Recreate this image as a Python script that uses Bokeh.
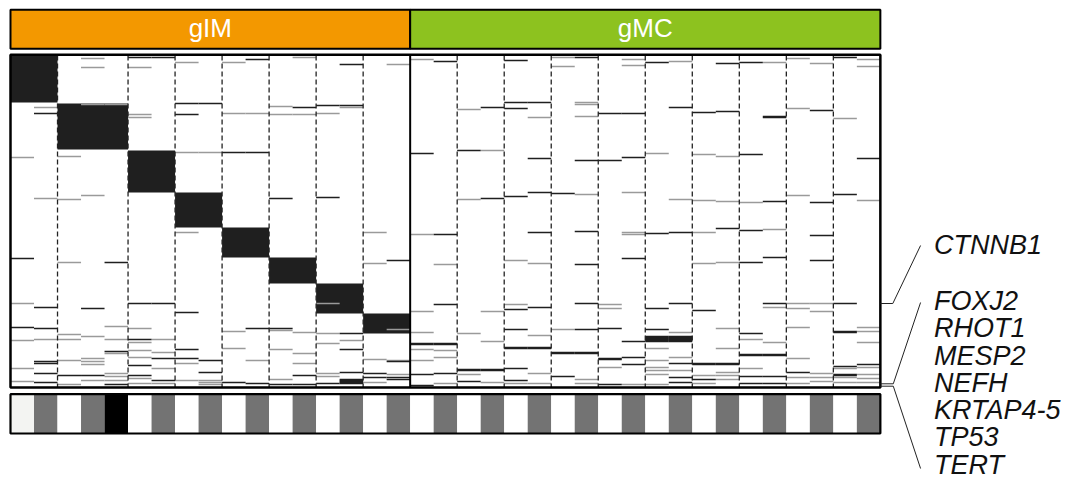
from bokeh.plotting import figure
from bokeh.models import Range1d, ColumnDataSource
from bokeh.embed import file_html
from bokeh.resources import INLINE
from bokeh.core.properties import value

# ---------------- data ----------------
GROUPS = ["gIM", "gMC"]
GROUP_COLORS = ["#F39800", "#8DC21F"]
GIM_CLUSTER_SIZES = [2, 3, 2, 2, 2, 2, 2, 2]
GMC_CLUSTER_SIZES = [2, 2, 2, 2, 2, 2, 2, 2, 2, 2]
N_ROWS = 332

# signature blocks of gIM clusters: (first_row, last_row)
BLOCK_ROWS = [(0, 47), (48, 94), (95, 137), (137, 172), (172, 202), (202, 228), (228, 258), (258, 278)]

# sparse events per sample column: light (gray) and strong (black)
GRAY_MARKS = {
    0: [102, 248, 285, 313, 326], 1: [52, 143, 284], 2: [101, 144, 207, 279, 284, 305, 329],
    3: [3, 12, 49, 140, 281, 303, 306, 309, 325], 4: [49, 271, 284, 298, 318, 321, 325],
    5: [12, 59, 62, 273, 287, 295, 302, 323, 328], 6: [284, 297, 313, 328],
    7: [7, 97, 177, 308, 325], 8: [97, 325, 327, 329], 9: [7, 58, 276, 293], 10: [58, 305],
    11: [51, 59, 275, 294, 324], 12: [2, 59, 277, 298, 308], 13: [58, 248, 278, 288, 318, 321],
    14: [52, 285], 15: [177, 208, 304, 327], 16: [9, 274, 305, 319],
    17: [4, 179, 256, 277, 294, 305], 18: [209, 295, 302, 328], 19: [54, 144, 278, 319],
    20: [95, 256, 286, 327], 21: [205, 249, 328], 22: [62, 208, 280, 318, 328], 23: [2, 11, 274],
    24: [47, 49, 61, 139, 324, 328], 25: [249, 253, 312], 26: [4, 10, 137, 177, 179, 329],
    27: [98, 293, 305, 312, 315, 319, 329], 28: [6, 144, 277, 302, 315],
    29: [99, 145, 177, 208, 320, 328], 30: [101, 146, 207, 273, 293, 317, 320, 324],
    31: [147, 284, 313], 32: [7, 174, 252, 287], 33: [3, 53, 140, 248, 253, 272, 303, 322, 328],
    34: [8, 248, 256, 318, 322, 326], 35: [63, 313, 322, 327],
    36: [4, 11, 145, 272, 276, 287, 312, 319, 323, 327],
}
DARK_MARKS = {
    0: [203, 272], 1: [58, 252, 273, 306, 308, 318, 327], 2: [320], 3: [253, 320],
    4: [207, 296, 329], 5: [2, 248, 284, 310, 320], 6: [2, 248, 303, 325],
    7: [48, 59, 257, 294, 303], 8: [48, 305, 317], 9: [97, 327], 10: [4, 97, 273, 328],
    11: [143, 273, 329], 12: [52, 320, 329], 13: [50, 142, 328],
    14: [9, 50, 278, 294, 317, 324, 325, 326, 327, 328], 15: [318, 322], 16: [205, 306, 322, 324],
    17: [98, 288, 289, 319, 330], 18: [6, 179, 249, 288, 289, 318], 19: [95, 314, 315, 326],
    20: [52, 143, 314, 315], 21: [5, 47, 53, 141, 254, 274, 292, 293, 313, 325],
    22: [47, 103, 137, 177, 252, 292, 293], 23: [138, 297, 298, 321],
    24: [2, 105, 176, 209, 248, 274, 297, 298], 25: [58, 105, 273, 303, 304, 329],
    26: [58, 102, 203, 286, 302, 309], 27: [7, 178, 253, 274, 281, 282, 283, 284, 285, 286],
    28: [52, 177, 248, 281, 282, 283, 284, 285, 286, 308, 322, 327],
    29: [57, 255, 308, 309, 324], 30: [8, 56, 173, 308, 309],
    31: [7, 99, 175, 207, 278, 299, 300, 321, 328],
    32: [61, 62, 146, 202, 248, 299, 300, 321, 328], 33: [317], 34: [55, 147, 180, 205],
    35: [2, 139, 248, 276, 277, 311, 319, 320], 36: [103, 309],
}

# bottom annotation bar level per column (0 light, 1 white, 2 gray, 3 black)
BOTTOM_LEVELS = [0, 2, 1, 2, 3, 1, 2, 1, 2, 1, 2, 1, 2, 1, 2, 1, 2,
                 1, 2, 1, 2, 1, 2, 1, 2, 1, 2, 1, 2, 1, 2, 1, 2, 1, 2, 1, 2]

GENE_LABELS = ["CTNNB1", "FOXJ2", "RHOT1", "MESP2", "NEFH", "KRTAP4-5", "TP53", "TERT"]
CTNNB1_ROW = 248

# ---------------- style ----------------
LEVEL_COLORS = ["#f3f4f2", "#ffffff", "#737373", "#000000"]
GRAY = "#9a9a9a"
DARK = "#1f1f1f"
FONT = value("Liberation Sans")

n_gim = sum(GIM_CLUSTER_SIZES)
n_cols = n_gim + sum(GMC_CLUSTER_SIZES)

p = figure(width=1082, height=482, x_range=Range1d(-0.4253, 45.598), y_range=Range1d(427, -55),
           toolbar_location=None, output_backend="svg", min_border=0,
           x_axis_location=None, y_axis_location=None, outline_line_color=None)
p.xgrid.grid_line_color = None
p.ygrid.grid_line_color = None
p.background_fill_color = "white"
p.border_fill_color = "white"

# blocks
bl, br, bt, bb = [], [], [], []
start = 0
for size, (r0, r1) in zip(GIM_CLUSTER_SIZES, BLOCK_ROWS):
    bl.append(start); br.append(start + size); bt.append(r0); bb.append(r1)
    start += size
p.quad(left=bl, right=br, top=bt, bottom=bb, fill_color=DARK, line_color=None)

# marks
def mark_source(marks):
    l, r, t, b = [], [], [], []
    for c, rows in marks.items():
        for rw in rows:
            l.append(c); r.append(c + 1); t.append(rw - 0.75); b.append(rw + 0.75)
    return ColumnDataSource(dict(left=l, right=r, top=t, bottom=b))

p.quad(left="left", right="right", top="top", bottom="bottom", source=mark_source(GRAY_MARKS),
       fill_color=GRAY, line_color=None)
p.quad(left="left", right="right", top="top", bottom="bottom", source=mark_source(DARK_MARKS),
       fill_color=DARK, line_color=None)

# cluster dashed separators
bounds = []
acc = 0
for s in GIM_CLUSTER_SIZES[:-1]:
    acc += s
    bounds.append(acc)
acc = n_gim
for s in GMC_CLUSTER_SIZES[:-1]:
    acc += s
    bounds.append(acc)
p.segment(x0=bounds, y0=[0] * len(bounds), x1=bounds, y1=[N_ROWS] * len(bounds),
          line_color="#222222", line_width=1.3, line_dash="5 3")
p.segment(x0=[n_gim], y0=[0], x1=[n_gim], y1=[N_ROWS], line_color="black", line_width=2)
# heatmap frame
p.quad(left=[0], right=[n_cols], top=[-0.7], bottom=[N_ROWS], fill_color=None,
       line_color="black", line_width=2.5)

# top group bar
p.quad(left=[0, n_gim], right=[n_gim, n_cols], top=[-45.7, -45.7], bottom=[-6.7, -6.7],
       fill_color=GROUP_COLORS, line_color="black", line_width=2)
p.text(x=[n_gim / 2, (n_gim + n_cols) / 2], y=[-27.5, -27.5], text=GROUPS,
       text_font=FONT, text_font_size=value("26px"), text_color="white",
       text_align="center", text_baseline="middle")

# bottom annotation bar
cols = list(range(n_cols))
p.quad(left=cols, right=[c + 1 for c in cols], top=[338.7] * n_cols, bottom=[378] * n_cols,
       fill_color=[LEVEL_COLORS[v] for v in BOTTOM_LEVELS], line_color=None)
p.quad(left=[0], right=[n_cols], top=[338.7], bottom=[378], fill_color=None,
       line_color="black", line_width=2.2)

# connectors
p.multi_line(xs=[[n_cols, n_cols + 0.53, n_cols + 1.71],
                 [n_cols, n_cols + 0.55, n_cols + 1.71],
                 [n_cols, n_cols + 0.55, n_cols + 1.71]],
             ys=[[CTNNB1_ROW, CTNNB1_ROW, 190],
                 [328.3, 328.3, 247],
                 [330.7, 330.7, 413]],
             line_color="#222222", line_width=1)

# gene labels
label_y = [189.0] + [245.5 + 27.25 * i for i in range(7)]
p.text(x=[39.28] * len(GENE_LABELS), y=label_y, text=GENE_LABELS,
       text_font=FONT, text_font_size=value("27px"), text_font_style="italic",
       text_color="#111111", text_align="left", text_baseline="alphabetic")

open("out.html", "w").write(file_html(p, INLINE))
